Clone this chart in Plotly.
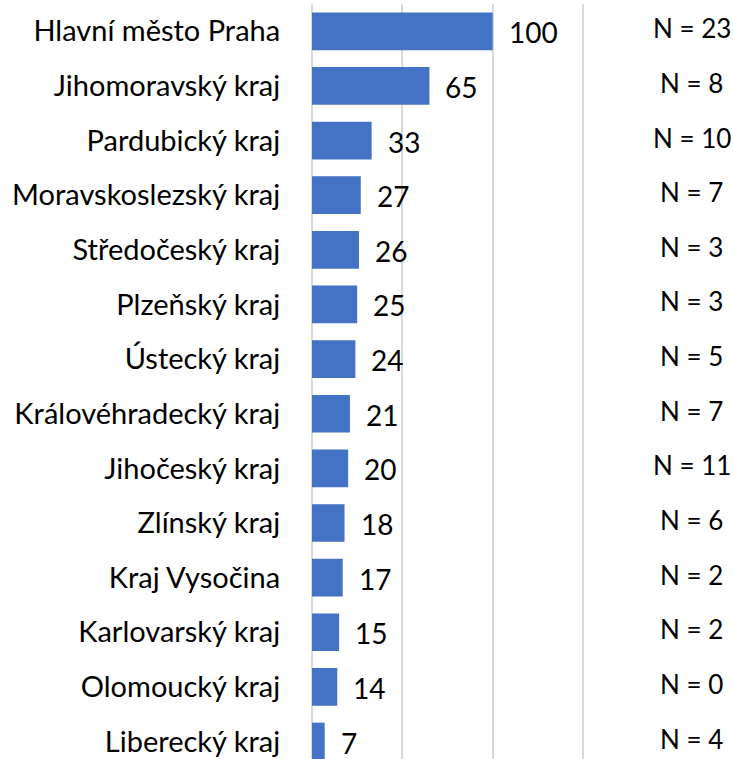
import plotly.graph_objects as go

regions = [
    "Hlavní město Praha", "Jihomoravský kraj", "Pardubický kraj",
    "Moravskoslezský kraj", "Středočeský kraj", "Plzeňský kraj",
    "Ústecký kraj", "Královéhradecký kraj", "Jihočeský kraj",
    "Zlínský kraj", "Kraj Vysočina", "Karlovarský kraj",
    "Olomoucký kraj", "Liberecký kraj",
]
index_values = [100, 65, 33, 27, 26, 25, 24, 21, 20, 18, 17, 15, 14, 7]
n_counts = [23, 8, 10, 7, 3, 3, 5, 7, 11, 6, 2, 2, 0, 4]

FONT = "Lato"
BAR_COLOR = "#4472C4"
GRID = "#d9d9d9"

fig = go.Figure(go.Bar(
    x=index_values,
    y=regions,
    orientation="h",
    width=0.69,
    marker=dict(color=BAR_COLOR, line=dict(width=0)),
    hoverinfo="skip",
))

# value labels right of the bars
for reg, v in zip(regions, index_values):
    fig.add_annotation(
        x=v, y=reg, text=str(v), showarrow=False,
        xanchor="left", xshift=14, yshift=-1,
        font=dict(family=FONT, size=28, color="black"),
    )

# sample sizes in the right column
for reg, n in zip(regions, n_counts):
    fig.add_annotation(
        xref="paper", x=1.38, y=reg, text=f"N = {n}", showarrow=False,
        xanchor="center", yshift=3,
        font=dict(family=FONT, size=26, color="black"),
    )

fig.update_layout(
    width=733,
    height=759,
    margin=dict(l=312, r=146, t=4, b=0, autoexpand=False),
    plot_bgcolor="white",
    paper_bgcolor="white",
    showlegend=False,
    xaxis=dict(
        range=[0, 152.2],
        tickvals=[0, 50, 100, 150],
        showticklabels=False,
        showgrid=True,
        gridcolor=GRID,
        gridwidth=2,
        zeroline=True,
        zerolinecolor=GRID,
        zerolinewidth=2,
        showline=False,
        automargin=False,
    ),
    yaxis=dict(
        type="category",
        categoryorder="array",
        categoryarray=regions,
        range=[13.32, -0.5],
        showgrid=False,
        zeroline=False,
        showline=False,
        automargin=False,
        ticks="outside",
        ticklen=25,
        tickcolor="rgba(0,0,0,0)",
        tickfont=dict(family=FONT, size=29, color="black"),
    ),
)

fig.write_html(
    "out.html",
    config={"displayModeBar": False},
    post_script="document.body.style.margin='0';",
)
